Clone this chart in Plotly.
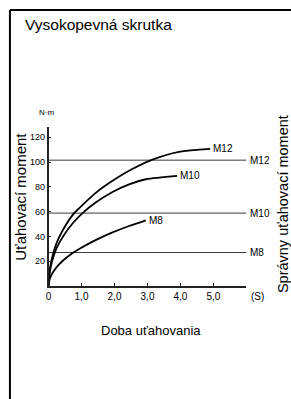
import plotly.graph_objects as go

# ---- data ----
series_names = ["M12", "M10", "M8"]
t_m12 = [0, 0.03, 0.09, 0.24, 0.44, 0.74, 0.94, 1.44, 1.94, 2.44, 3.15, 3.95, 4.9]
v_m12 = [0, 11, 21, 34.5, 45.4, 57.6, 63, 75.3, 84.8, 92.9, 101.9, 108.2, 110.6]
t_m10 = [0, 0.03, 0.09, 0.24, 0.44, 0.74, 1.04, 1.44, 1.94, 2.44, 2.95, 3.9]
v_m10 = [0, 9.5, 18.2, 30.4, 40, 50.8, 59, 67.5, 75.8, 82, 86.1, 88.9]
t_m8 = [0, 0.03, 0.09, 0.24, 0.44, 0.69, 0.94, 1.44, 1.94, 2.44, 2.95]
v_m8 = [0, 5, 9, 15, 20.6, 25.8, 30, 37.2, 43.2, 48.4, 53]
ref_levels = [101.5, 58.8, 27.0]   # correct tightening torque M12, M10, M8
x_tickvals = [0, 1, 2, 3, 4, 5]
x_ticktext = ["0", "1,0", "2,0", "3,0", "4,0", "5,0"]
y_tickvals = [20, 40, 60, 80, 100, 120]
y_ticktext = ["20", "40", "60", "80", "100", "120"]

FONT = "Arial, Liberation Sans, sans-serif"
W, H = 291, 399

fig = go.Figure()

# reference lines
for lvl in ref_levels:
    fig.add_trace(go.Scatter(x=[0, 6], y=[lvl, lvl], mode="lines",
                             line=dict(color="#3a3a3a", width=1),
                             hoverinfo="skip", showlegend=False))

curves = [(t_m12, v_m12), (t_m10, v_m10), (t_m8, v_m8)]
for (tt, vv) in curves:
    fig.add_trace(go.Scatter(x=tt, y=vv, mode="lines",
                             line=dict(color="#000000", width=1.8, shape="spline", smoothing=0.8),
                             hoverinfo="skip", showlegend=False))

annotations = []
# curve end labels
for name, (tt, vv) in zip(series_names, curves):
    annotations.append(dict(x=tt[-1], y=vv[-1], xref="x", yref="y", text=name,
                            showarrow=False, xanchor="left", yanchor="middle", xshift=1,
                            font=dict(family=FONT, size=10, color="#000")))
# right labels for reference lines
for name, lvl in zip(series_names, ref_levels):
    annotations.append(dict(x=6, y=lvl, xref="x", yref="y", text=name,
                            showarrow=False, xanchor="left", yanchor="middle", xshift=2,
                            font=dict(family=FONT, size=10, color="#000")))

# unit labels and titles
annotations += [
    dict(x=6, y=0, xref="x", yref="y", text="(S)", showarrow=False,
         xanchor="center", yanchor="top", xshift=11, yshift=-3,
         font=dict(family=FONT, size=10, color="#000")),
    dict(x=44 / W, y=1 - 112.5 / H, xref="paper", yref="paper", text="N·m", showarrow=False,
         xanchor="center", yanchor="middle", font=dict(family=FONT, size=8, color="#000")),
    dict(x=20 / W, y=1 - 25 / H, xref="paper", yref="paper", text="Vysokopevná skrutka",
         showarrow=False, xanchor="left", yanchor="middle",
         font=dict(family=FONT, size=15.5, color="#000")),
    dict(x=150 / W, y=1 - 330 / H, xref="paper", yref="paper", text="Doba uťahovania",
         showarrow=False, xanchor="center", yanchor="middle",
         font=dict(family=FONT, size=13, color="#000")),
    dict(x=18 / W, y=1 - 197 / H, xref="paper", yref="paper", text="Uťahovací moment",
         showarrow=False, xanchor="center", yanchor="middle", textangle=-90,
         font=dict(family=FONT, size=15, color="#000")),
    dict(x=283 / W, y=1 - 204 / H, xref="paper", yref="paper", text="Správny uťahovací moment",
         showarrow=False, xanchor="center", yanchor="middle", textangle=-90,
         font=dict(family=FONT, size=14.5, color="#000")),
]

shapes = [
    # frame: thick left edge and top edge
    dict(type="line", xref="paper", yref="paper", x0=7 / W, x1=7 / W, y0=0, y1=1 - 10 / H,
         line=dict(color="#000", width=2)),
    dict(type="line", xref="paper", yref="paper", x0=7 / W, x1=1, y0=1 - 10 / H, y1=1 - 10 / H,
         line=dict(color="#000", width=2)),
]

fig.update_layout(
    width=W, height=H,
    margin=dict(l=0, r=0, t=0, b=0),
    paper_bgcolor="white", plot_bgcolor="white",
    showlegend=False,
    annotations=annotations,
    shapes=shapes,
    xaxis=dict(domain=[46 / W, 246 / W], range=[0, 6], showgrid=False, zeroline=False,
               showline=True, linecolor="#222", linewidth=1.5,
               ticks="inside", ticklen=3, tickwidth=1, tickcolor="#222",
               tickvals=x_tickvals, ticktext=x_ticktext,
               tickfont=dict(family=FONT, size=10, color="#000")),
    yaxis=dict(domain=[(H - 286) / H, (H - 127.3) / H], range=[0, 128], showgrid=False,
               zeroline=False, showline=True, linecolor="#222", linewidth=1.5,
               ticks="inside", ticklen=3, tickwidth=1, tickcolor="#222",
               tickvals=y_tickvals, ticktext=y_ticktext,
               tickfont=dict(family=FONT, size=9, color="#000")),
)

post = (
    "document.documentElement.style.margin='0';"
    "document.body.style.margin='0';document.body.style.padding='0';"
    "var d=document.getElementById('{plot_id}');"
    "d.style.position='absolute';d.style.left='0px';d.style.top='0px';"
)
fig.write_html("out.html", config={"displayModeBar": False}, post_script=post)
